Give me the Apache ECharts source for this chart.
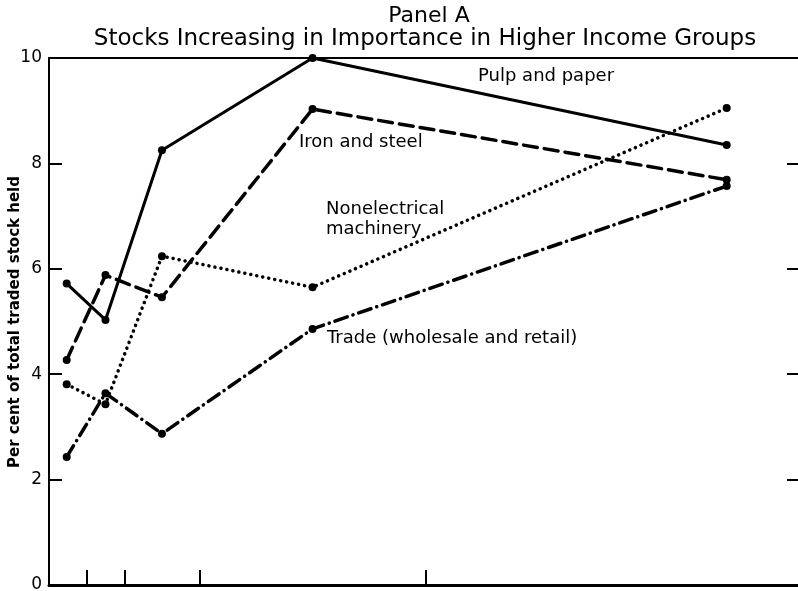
<!DOCTYPE html>
<html>
<head>
<meta charset="utf-8">
<script src="https://cdn.jsdelivr.net/npm/echarts@6/dist/echarts.min.js"></script>
<style>
  html, body { margin: 0; padding: 0; background: #fff; }
  #chart { width: 798px; height: 591px; }
</style>
</head>
<body>
<div id="chart"></div>
<script>
  // income group positions along the x axis (axis runs 0..100)
  const groupX = [2.35, 7.5, 15, 35, 90]
  const xTicks = [5, 10, 20, 50]
  const yTicks = [2, 4, 6, 8]

  const pulpPaper = [5.72, 5.03, 8.25, 10.0, 8.35]
  const ironSteel = [4.27, 5.88, 5.46, 9.03, 7.69]
  const nonelecMachinery = [3.81, 3.43, 6.24, 5.65, 9.05]
  const trade = [2.43, 3.64, 2.87, 4.86, 7.57]

  const font = '"DejaVu Sans", sans-serif'

  function pairs(vals) {
    return vals.map((v, i) => [groupX[i], v])
  }

  function makeSeries(name, vals, dash, width) {
    return {
      name: name,
      type: 'line',
      data: pairs(vals),
      symbol: 'circle',
      symbolSize: 8,
      itemStyle: { color: '#000' },
      lineStyle: { color: '#000', width: width, type: dash, cap: 'round' },
      animation: false
    }
  }

  const myChart = echarts.init(document.getElementById('chart'))

  const option = {
    backgroundColor: '#fff',
    animation: false,
    title: [
      {
        text: 'Panel A',
        left: 424, top: 0, textAlign: 'center',
        textStyle: { fontFamily: font, fontSize: 22, fontWeight: 'normal', color: '#000' }
      },
      {
        text: 'Stocks Increasing in Importance in Higher Income Groups',
        left: 420, top: 23, textAlign: 'center',
        textStyle: { fontFamily: font, fontSize: 23, fontWeight: 'normal', color: '#000' }
      }
    ],
    grid: { left: 49, right: -4, top: 58, bottom: 6, containLabel: false, outerBoundsMode: 'none' },
    xAxis: [
      {
        type: 'value', min: 0, max: 100,
        axisLine: { show: true, onZero: false, lineStyle: { color: '#000', width: 3 } },
        axisTick: { show: true, inside: true, length: 15, customValues: xTicks, lineStyle: { color: '#000', width: 2 } },
        axisLabel: { show: false },
        splitLine: { show: false }
      },
      {
        type: 'value', min: 0, max: 100, position: 'top',
        axisLine: { show: true, onZero: false, lineStyle: { color: '#000', width: 2 } },
        axisTick: { show: false },
        axisLabel: { show: false },
        splitLine: { show: false }
      }
    ],
    yAxis: [
      {
        type: 'value', min: 0, max: 10, interval: 2,
        axisLine: { show: true, onZero: false, lineStyle: { color: '#000', width: 2 } },
        axisTick: { show: true, inside: true, length: 13, customValues: yTicks, lineStyle: { color: '#000', width: 2 } },
        axisLabel: { fontFamily: font, fontSize: 17, color: '#000', margin: 7 },
        splitLine: { show: false }
      },
      {
        type: 'value', min: 0, max: 10, interval: 2, position: 'right',
        axisLine: { show: true, onZero: false, lineStyle: { color: '#000', width: 2 } },
        axisTick: { show: true, inside: true, length: 15, customValues: yTicks, lineStyle: { color: '#000', width: 2 } },
        axisLabel: { show: false },
        splitLine: { show: false }
      }
    ],
    graphic: [
      {
        type: 'text', x: 15, y: 322, rotation: Math.PI / 2,
        style: {
          text: 'Per cent of total traded stock held', font: 'bold 15px ' + font, fill: '#000',
          align: 'center', verticalAlign: 'middle'
        }
      },
      { type: 'text', left: 478, top: 67, style: { text: 'Pulp and paper', font: '18px ' + font, fill: '#000' } },
      { type: 'text', left: 299, top: 133, style: { text: 'Iron and steel', font: '18px ' + font, fill: '#000' } },
      { type: 'text', left: 326, top: 199, style: { text: 'Nonelectrical\nmachinery', font: '18px ' + font, fill: '#000', lineHeight: 20 } },
      { type: 'text', left: 327, top: 329, style: { text: 'Trade (wholesale and retail)', font: '18px ' + font, fill: '#000' } }
    ],
    series: [
      makeSeries('Pulp and paper', pulpPaper, 'solid', 3),
      makeSeries('Iron and steel', ironSteel, [14, 7], 3.5),
      makeSeries('Nonelectrical machinery', nonelecMachinery, [0.1, 6], 3.5),
      makeSeries('Trade (wholesale and retail)', trade, [13, 6, 0.1, 6], 3.5)
    ]
  }
  myChart.setOption(option)
</script>
</body>
</html>
